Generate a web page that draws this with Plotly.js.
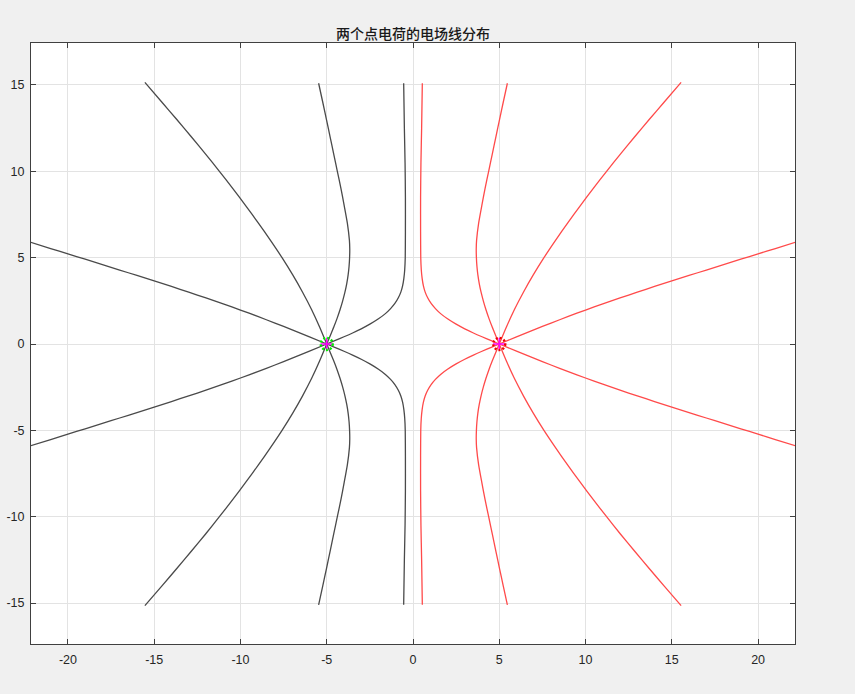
<!DOCTYPE html>
<html>
<head>
<meta charset="utf-8">
<script src="https://cdn.plot.ly/plotly-3.0.1.min.js"></script>
<style>
  html, body { margin: 0; padding: 0; background: #f0f0f0; }
  #plot { width: 855px; height: 694px; }
</style>
</head>
<body>
<div id="plot"></div>
<script>
// Point charges (x, y)
const chargeX = [-5, 5];
const chargeY = [0, 0];

// Field-line family A: shallow lines leaving each charge outward
const famA_xLeft  = [-5, -6, -7, -8, -9, -10, -11, -12, -13, -14, -15, -16, -17, -18, -19, -20, -21, -22.2];
const famA_xRight = [5, 6, 7, 8, 9, 10, 11, 12, 13, 14, 15, 16, 17, 18, 19, 20, 21, 22.2];
const famA_yUp    = [0, 0.414, 0.819, 1.214, 1.597, 1.967, 2.324, 2.669, 3.004, 3.331, 3.651, 3.969, 4.284, 4.597, 4.909, 5.22, 5.53, 5.902];
const famA_yDown  = [0, -0.414, -0.819, -1.214, -1.597, -1.967, -2.324, -2.669, -3.004, -3.331, -3.651, -3.969, -4.284, -4.597, -4.909, -5.22, -5.53, -5.902];

// Family B: diagonal lines towards the outer corners
const famB_xLeft  = [-5, -5.42, -5.88, -6.40, -6.97, -7.59, -8.26, -8.96, -9.69, -10.44, -11.22, -12.02, -12.85, -13.69, -14.55, -15.54];
const famB_xRight = [5, 5.42, 5.88, 6.40, 6.97, 7.59, 8.26, 8.96, 9.69, 10.44, 11.22, 12.02, 12.85, 13.69, 14.55, 15.54];
const famB_yUp    = [0, 1, 2, 3, 4, 5, 6, 7, 8, 9, 10, 11, 12, 13, 14, 15.15];
const famB_yDown  = [0, -1, -2, -3, -4, -5, -6, -7, -8, -9, -10, -11, -12, -13, -14, -15.15];

// Family C: lines that bow towards the middle and turn back up/down
const famC_xLeft  = [-5, -4.79, -4.585, -4.395, -4.225, -4.075, -3.945, -3.84, -3.76, -3.705, -3.675, -3.665, -3.685, -3.805, -3.985, -4.175, -4.385, -4.595, -4.805, -5.015, -5.23, -5.47];
const famC_xRight = [5, 4.79, 4.585, 4.395, 4.225, 4.075, 3.945, 3.84, 3.76, 3.705, 3.675, 3.665, 3.685, 3.805, 3.985, 4.175, 4.385, 4.595, 4.805, 5.015, 5.23, 5.47];
const famC_yUp    = [0, 0.5, 1, 1.5, 2, 2.5, 3, 3.5, 4, 4.5, 5, 5.5, 6, 7, 8, 9, 10, 11, 12, 13, 14, 15.1];
const famC_yDown  = [0, -0.5, -1, -1.5, -2, -2.5, -3, -3.5, -4, -4.5, -5, -5.5, -6, -7, -8, -9, -10, -11, -12, -13, -14, -15.1];

// Family D: lines heading to the midline and running alongside it
const famD_xLeft  = [-5, -4.5, -4.0, -3.5, -3.0, -2.5, -2.0, -1.6, -1.3, -1.05, -0.85, -0.7, -0.6, -0.53, -0.48, -0.45, -0.44, -0.44, -0.46, -0.5, -0.54];
const famD_xRight = [5, 4.5, 4.0, 3.5, 3.0, 2.5, 2.0, 1.6, 1.3, 1.05, 0.85, 0.7, 0.6, 0.53, 0.48, 0.45, 0.44, 0.44, 0.46, 0.5, 0.54];
const famD_yUp    = [0, 0.21, 0.42, 0.64, 0.88, 1.15, 1.46, 1.76, 2.05, 2.35, 2.68, 3.02, 3.38, 3.8, 4.3, 5.0, 6.5, 8.5, 10.5, 12.5, 15.1];
const famD_yDown  = [0, -0.21, -0.42, -0.64, -0.88, -1.15, -1.46, -1.76, -2.05, -2.35, -2.68, -3.02, -3.38, -3.8, -4.3, -5.0, -6.5, -8.5, -10.5, -12.5, -15.1];

// Axis ticks
const xTicks = [-20, -15, -10, -5, 0, 5, 10, 15, 20];
const yTicks = [-15, -10, -5, 0, 5, 10, 15];

const leftColor = '#4a4a4a';
const rightColor = '#ff4a4a';

function fieldLine(x, y, color) {
  return {
    type: 'scatter', mode: 'lines', x: x, y: y,
    line: { color: color, width: 1.3, shape: 'spline', smoothing: 0.6 },
    hoverinfo: 'skip', showlegend: false
  };
}

const families = [
  [famA_xLeft, famA_xRight, famA_yUp, famA_yDown],
  [famB_xLeft, famB_xRight, famB_yUp, famB_yDown],
  [famC_xLeft, famC_xRight, famC_yUp, famC_yDown],
  [famD_xLeft, famD_xRight, famD_yUp, famD_yDown]
];

const traces = [];
families.forEach(([xl, xr, yu, yd]) => {
  traces.push(fieldLine(xl, yu, leftColor));
  traces.push(fieldLine(xl, yd, leftColor));
  traces.push(fieldLine(xr, yu, rightColor));
  traces.push(fieldLine(xr, yd, rightColor));
});

// Charge centres: magenta crosses
traces.push({
  type: 'scatter', mode: 'markers', x: chargeX, y: chargeY,
  marker: { symbol: 'cross-thin-open', size: 9, color: '#ff00ff', line: { color: '#ff00ff', width: 1.5 } },
  hoverinfo: 'skip', showlegend: false
});

// Dotted rings around each charge
const ringColors = ['#00ee00', '#ee0000'];
const shapes = chargeX.map((cx, i) => ({
  type: 'circle', xref: 'x', yref: 'y',
  xsizemode: 'pixel', ysizemode: 'pixel',
  xanchor: cx, yanchor: chargeY[i],
  x0: -6, x1: 6, y0: -6, y1: 6,
  line: { color: ringColors[i], width: 2.4, dash: '2px,2px' }
}));

const axisCommon = {
  showgrid: true, gridcolor: '#e3e3e3', gridwidth: 1,
  zeroline: false,
  showline: true, linecolor: '#404040', linewidth: 1, mirror: 'ticks',
  ticks: 'inside', ticklen: 5, tickcolor: '#404040', tickwidth: 1,
  tickfont: { family: 'Liberation Sans, Arial, sans-serif', size: 12.5, color: '#262626' }
};

const layout = {
  width: 855, height: 694, autosize: false,
  paper_bgcolor: '#f0f0f0', plot_bgcolor: '#ffffff',
  margin: { l: 31, r: 60, t: 43, b: 50 },
  title: {
    text: '两个点电荷的电场线分布',
    font: { family: 'Noto Sans CJK SC, sans-serif', size: 14, color: '#1a1a1a', weight: 500 },
    x: 0.5, xanchor: 'center', xref: 'paper',
    y: 1, yref: 'paper', yanchor: 'bottom', pad: { b: 4 }
  },
  xaxis: Object.assign({}, axisCommon, {
    range: [-22.14, 22.14], tickvals: xTicks, ticktext: xTicks.map(String),
    ticklabelstandoff: 4
  }),
  yaxis: Object.assign({}, axisCommon, {
    range: [-17.37, 17.43], tickvals: yTicks, ticktext: yTicks.map(String),
    ticklabelstandoff: 3
  }),
  shapes: shapes,
  showlegend: false
};

Plotly.newPlot('plot', traces, layout, { displayModeBar: false, staticPlot: true });
</script>
</body>
</html>
